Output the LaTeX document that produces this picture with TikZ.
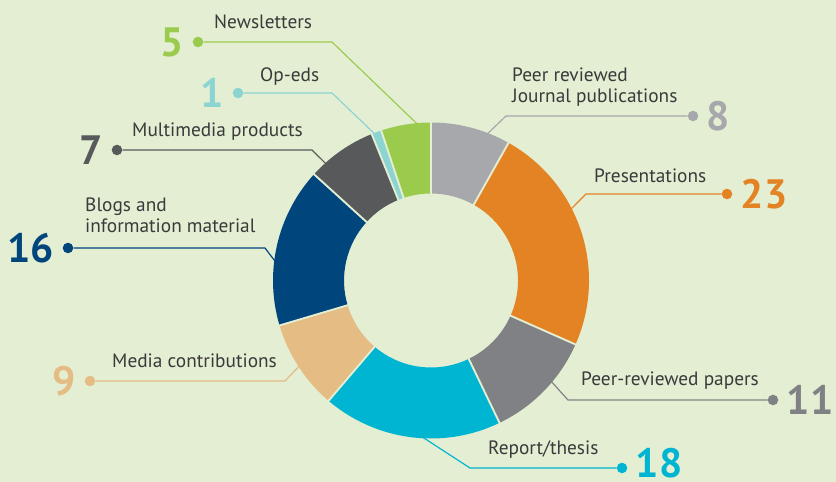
\documentclass[tikz,border=0pt]{standalone}
\usepackage{fontspec}
\setmainfont{PT Sans}
\usetikzlibrary{positioning}

\definecolor{bg}{HTML}{E3EED3}
\definecolor{cNews}{HTML}{9BCB4C}
\definecolor{cOped}{HTML}{8CD4D2}
\definecolor{cMulti}{HTML}{58595B}
\definecolor{cBlog}{HTML}{00457B}
\definecolor{cMedia}{HTML}{E4BC84}
\definecolor{cReport}{HTML}{00B5D1}
\definecolor{cPaper}{HTML}{808184}
\definecolor{cPres}{HTML}{E38323}
\definecolor{cJrnl}{HTML}{A7A8AC}
\definecolor{txt}{HTML}{3A3A3A}

\tikzset{
  dot/.style={circle, fill=#1, inner sep=0pt, minimum size=9pt},
  num/.style={text=#1, font=\fontsize{35}{35}\selectfont\bfseries, inner sep=0pt},
  lbl/.style={text=txt, font=\fontsize{16.5}{18}\selectfont, inner sep=0pt, anchor=base west, align=left},
  lead/.style={draw=#1, line width=1pt},
}

\begin{document}
\begin{tikzpicture}[x=0.03cm, y=0.03cm, node distance=7pt]
\fill[bg] (0,0) rectangle (836,482);
\useasboundingbox (0,0) rectangle (836,482);

% the ring
\begin{scope}[shift={(431,201.5)}]
\foreach \s/\e/\c in {90/60.61/cJrnl, 60.61/-23.88/cPres, -23.88/-64.29/cPaper,
    -64.29/-130.41/cReport, -130.41/-163.47/cMedia, -163.47/-222.24/cBlog,
    -222.24/-247.96/cMulti, -247.96/-251.63/cOped, -251.63/-270/cNews}
  \fill[\c] (\s:158) arc[start angle=\s, end angle=\e, radius=158]
    -- (\e:87) arc[start angle=\e, end angle=\s, radius=87] -- cycle;
\foreach \a in {90, 60.61, -23.88, -64.29, -130.41, -163.47, -222.24, -247.96, -251.63}
  \draw[bg, line width=1.6pt] (\a:86) -- (\a:159);
\coordinate (eNews) at (95:157);
\coordinate (eOped) at (111:157);
\coordinate (eMulti) at (132:157);
\coordinate (eBlog) at (173:157);
\coordinate (eMedia) at (213:157);
\coordinate (eReport) at (267:157);
\coordinate (ePaper) at (320:157);
\coordinate (ePres) at (27:157);
\coordinate (eJrnl) at (69:157);
\end{scope}

% left side
\node[dot=cNews] (dNews) at (198,440) {};
\node[num=cNews, left=of dNews] (nNews) {5};
\coordinate (kNews) at (332,440);
\draw[lead=cNews] (dNews) -- (kNews) -- (eNews);
\node[lbl] (lNews) at (214,453) {Newsletters};

\node[dot=cOped] (dOped) at (238,389) {};
\node[num=cOped, left=of dOped] (nOped) {1};
\coordinate (kOped) at (332,389);
\draw[lead=cOped] (dOped) -- (kOped) -- (eOped);
\node[lbl] (lOped) at (260,400) {Op-eds};

\node[dot=cMulti] (dMulti) at (117,332) {};
\node[num=cMulti, left=of dMulti] (nMulti) {7};
\coordinate (kMulti) at (312,332);
\draw[lead=cMulti] (dMulti) -- (kMulti) -- (eMulti);
\node[lbl] (lMulti) at (132,345) {Multimedia products};

\node[dot=cBlog] (dBlog) at (68,234) {};
\node[num=cBlog, left=of dBlog] (nBlog) {16};
\coordinate (kBlog) at (265,234);
\draw[lead=cBlog] (dBlog) -- (kBlog) -- (eBlog);
\node[lbl] (lBlog) at (85,249) {Blogs and\\information material};

\node[dot=cMedia] (dMedia) at (90,101) {};
\node[num=cMedia, left=of dMedia] (nMedia) {9};
\coordinate (kMedia) at (285,101);
\draw[lead=cMedia] (dMedia) -- (kMedia) -- (eMedia);
\node[lbl] (lMedia) at (112,114) {Media contributions};

% right side
\node[dot=cReport] (dReport) at (622,14) {};
\node[num=cReport, right=of dReport, yshift=4pt] (nReport) {18};
\coordinate (kReport) at (470,14);
\draw[lead=cReport] (dReport) -- (kReport) -- (eReport);
\node[lbl] (lReport) at (488,27) {Report/thesis};

\node[dot=cPaper] (dPaper) at (773,82) {};
\node[num=cPaper, right=of dPaper] (nPaper) {11};
\coordinate (kPaper) at (568,82);
\draw[lead=cPaper] (dPaper) -- (kPaper) -- (ePaper);
\node[lbl] (lPaper) at (581,96) {Peer-reviewed papers};

\node[dot=cPres] (dPres) at (727,288) {};
\node[num=cPres, right=of dPres] (nPres) {23};
\coordinate (kPres) at (586,288);
\draw[lead=cPres] (dPres) -- (kPres) -- (ePres);
\node[lbl] (lPres) at (594,299) {Presentations};

\node[dot=cJrnl] (dJrnl) at (693,366) {};
\node[num=cJrnl, right=of dJrnl] (nJrnl) {8};
\coordinate (kJrnl) at (506,366);
\draw[lead=cJrnl] (dJrnl) -- (kJrnl) -- (eJrnl);
\node[lbl] (lJrnl) at (512,379) {Peer reviewed\\Journal publications};
\end{tikzpicture}
\end{document}
